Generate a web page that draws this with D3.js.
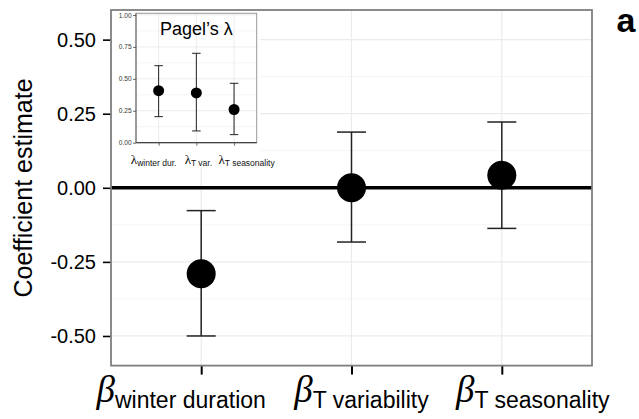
<!DOCTYPE html>
<html>
<head>
<meta charset="utf-8">
<script src="https://cdn.jsdelivr.net/npm/d3@7"></script>
<style>
  html, body { margin: 0; padding: 0; background: #fff; }
  svg { display: block; }
</style>
</head>
<body>
<svg id="chart" width="639" height="419"></svg>
<script>
// ---------- data ----------
const categories = ["winter duration", "T variability", "T seasonality"];
const estimates  = [-0.29, 0.0, 0.042];
const lowerCI    = [-0.50, -0.183, -0.137];
const upperCI    = [-0.077, 0.188, 0.222];

const lambdaCategories = ["winter dur.", "T var.", "T seasonality"];
const lambdaEstimates  = [0.407, 0.39, 0.26];
const lambdaLower      = [0.204, 0.092, 0.063];
const lambdaUpper      = [0.603, 0.70, 0.465];

const yTicks      = [-0.5, -0.25, 0, 0.25, 0.5];
const yMinorTicks = [-0.375, -0.125, 0.125, 0.375];
const lambdaTicks = [0, 0.25, 0.5, 0.75, 1];
const lambdaMinor = [0.125, 0.375, 0.625, 0.875];

// ---------- layout ----------
const SANS = "'Liberation Sans', Arial, Helvetica, sans-serif";
const SERIF = "'Liberation Serif', 'Times New Roman', serif";
const panel = { left: 111, right: 592, top: 10, bottom: 365.6 };
const labelShift = [-20, 10, 31];      // horizontal shift of x tick labels
const inset = { left: 136, right: 256.7, top: 13.3, bottom: 142.7 };
const insetLabelShift = [-5, 2, 12.5];

const svg = d3.select("#chart");

const x = d3.scalePoint().domain(categories).range([panel.left, panel.right]).padding(0.6);
const y = d3.scaleLinear().domain([-0.6, 0.6]).range([panel.bottom, panel.top]);
const fmt = v => v.toFixed(2);

// grid
const g = svg.append("g");
g.append("rect").attr("x", panel.left).attr("y", panel.top)
  .attr("width", panel.right - panel.left).attr("height", panel.bottom - panel.top)
  .attr("fill", "#fff");
g.selectAll(".minor").data(yMinorTicks).join("line")
  .attr("x1", panel.left).attr("x2", panel.right)
  .attr("y1", d => y(d)).attr("y2", d => y(d))
  .attr("stroke", "#f5f5f5").attr("stroke-width", 1);
g.selectAll(".major").data(yTicks).join("line")
  .attr("x1", panel.left).attr("x2", panel.right)
  .attr("y1", d => y(d)).attr("y2", d => y(d))
  .attr("stroke", "#ebebeb").attr("stroke-width", 1.2);
g.selectAll(".vgrid").data(categories).join("line")
  .attr("x1", d => x(d)).attr("x2", d => x(d))
  .attr("y1", panel.top).attr("y2", panel.bottom)
  .attr("stroke", "#ebebeb").attr("stroke-width", 1.2);

// zero line
g.append("line").attr("x1", panel.left).attr("x2", panel.right)
  .attr("y1", y(0)).attr("y2", y(0)).attr("stroke", "#000").attr("stroke-width", 3.5);

// error bars
const capW = 29;
const data = categories.map((c, i) => ({ c, est: estimates[i], lo: lowerCI[i], hi: upperCI[i] }));
const eb = g.append("g").attr("stroke", "#222").attr("stroke-width", 1.5);
eb.selectAll(".v").data(data).join("line")
  .attr("x1", d => x(d.c)).attr("x2", d => x(d.c))
  .attr("y1", d => y(d.lo)).attr("y2", d => y(d.hi));
eb.selectAll(".t").data(data).join("line")
  .attr("x1", d => x(d.c) - capW / 2).attr("x2", d => x(d.c) + capW / 2)
  .attr("y1", d => y(d.hi)).attr("y2", d => y(d.hi));
eb.selectAll(".b").data(data).join("line")
  .attr("x1", d => x(d.c) - capW / 2).attr("x2", d => x(d.c) + capW / 2)
  .attr("y1", d => y(d.lo)).attr("y2", d => y(d.lo));
g.selectAll(".pt").data(data).join("circle")
  .attr("cx", d => x(d.c)).attr("cy", d => y(d.est)).attr("r", 14.5).attr("fill", "#000");

// y axis
const yAxis = svg.append("g").attr("transform", `translate(${panel.left},0)`)
  .call(d3.axisLeft(y).tickValues(yTicks).tickFormat(fmt).tickSize(8).tickPadding(7));
yAxis.select(".domain").remove();
yAxis.selectAll(".tick line").attr("stroke", "#000").attr("stroke-width", 1.6);
yAxis.selectAll(".tick text").attr("font-family", SANS).attr("font-size", 20).attr("fill", "#000");

// x axis ticks
const xAxis = svg.append("g").attr("transform", `translate(0,${panel.bottom})`)
  .call(d3.axisBottom(x).tickSize(9).tickFormat(""));
xAxis.select(".domain").remove();
xAxis.selectAll(".tick line").attr("stroke", "#000").attr("stroke-width", 2);

// x tick labels (beta with subscript)
categories.forEach((c, i) => {
  const t = svg.append("text")
    .attr("x", x(c) + labelShift[i]).attr("y", 402)
    .attr("text-anchor", "middle");
  t.append("tspan").attr("font-family", SERIF).attr("font-style", "italic")
    .attr("font-size", 37).text("β");
  t.append("tspan").attr("font-family", SANS).attr("font-size", 23)
    .attr("dy", 6).text(c);
});

// y title
svg.append("text")
  .attr("transform", "translate(32,188) rotate(-90)")
  .attr("text-anchor", "middle")
  .attr("font-family", SANS).attr("font-size", 25).attr("fill", "#000")
  .text("Coefficient estimate");

// ---------- inset ----------
const ins = svg.append("g");
ins.append("rect").attr("x", panel.left + 1).attr("y", panel.top + 1)
  .attr("width", 260 - panel.left - 1).attr("height", 168 - panel.top - 1).attr("fill", "#fff");

const xi = d3.scalePoint().domain(lambdaCategories).range([inset.left, inset.right]).padding(0.6);
const yi = d3.scaleLinear().domain([0, 1.013]).range([inset.bottom, inset.top]);

ins.selectAll(".iminor").data(lambdaMinor).join("line")
  .attr("x1", inset.left).attr("x2", inset.right)
  .attr("y1", d => yi(d)).attr("y2", d => yi(d))
  .attr("stroke", "#f3f3f3").attr("stroke-width", 0.8);
ins.selectAll(".imajor").data(lambdaTicks.slice(1)).join("line")
  .attr("x1", inset.left).attr("x2", inset.right)
  .attr("y1", d => yi(d)).attr("y2", d => yi(d))
  .attr("stroke", "#e8e8e8").attr("stroke-width", 0.8);
ins.selectAll(".ivgrid").data(lambdaCategories).join("line")
  .attr("x1", d => xi(d)).attr("x2", d => xi(d))
  .attr("y1", inset.top).attr("y2", inset.bottom)
  .attr("stroke", "#e8e8e8").attr("stroke-width", 0.8);
ins.append("rect").attr("x", inset.left).attr("y", inset.top)
  .attr("width", inset.right - inset.left).attr("height", inset.bottom - inset.top)
  .attr("fill", "none").attr("stroke", "#999").attr("stroke-width", 1);
ins.append("line").attr("x1", inset.left).attr("x2", inset.right)
  .attr("y1", inset.bottom).attr("y2", inset.bottom).attr("stroke", "#444").attr("stroke-width", 1.2);
ins.append("line").attr("x1", inset.left).attr("x2", inset.left)
  .attr("y1", inset.top).attr("y2", inset.bottom).attr("stroke", "#777").attr("stroke-width", 1.2);

const ldata = lambdaCategories.map((c, i) => ({ c, est: lambdaEstimates[i], lo: lambdaLower[i], hi: lambdaUpper[i] }));
const icap = 8.5;
const ieb = ins.append("g").attr("stroke", "#222").attr("stroke-width", 1);
ieb.selectAll(".v").data(ldata).join("line")
  .attr("x1", d => xi(d.c)).attr("x2", d => xi(d.c))
  .attr("y1", d => yi(d.lo)).attr("y2", d => yi(d.hi));
ieb.selectAll(".t").data(ldata).join("line")
  .attr("x1", d => xi(d.c) - icap / 2).attr("x2", d => xi(d.c) + icap / 2)
  .attr("y1", d => yi(d.hi)).attr("y2", d => yi(d.hi));
ieb.selectAll(".b").data(ldata).join("line")
  .attr("x1", d => xi(d.c) - icap / 2).attr("x2", d => xi(d.c) + icap / 2)
  .attr("y1", d => yi(d.lo)).attr("y2", d => yi(d.lo));
ins.selectAll(".ipt").data(ldata).join("circle")
  .attr("cx", d => xi(d.c)).attr("cy", d => yi(d.est)).attr("r", 5.5).attr("fill", "#000");

const yiAxis = ins.append("g").attr("transform", `translate(${inset.left},0)`)
  .call(d3.axisLeft(yi).tickValues(lambdaTicks).tickFormat(fmt).tickSize(3).tickPadding(1.5));
yiAxis.select(".domain").remove();
yiAxis.selectAll(".tick line").attr("stroke", "#444").attr("stroke-width", 0.8);
yiAxis.selectAll(".tick text").attr("font-family", SANS).attr("font-size", 6.5).attr("fill", "#333");

const xiAxis = ins.append("g").attr("transform", `translate(0,${inset.bottom})`)
  .call(d3.axisBottom(xi).tickSize(3).tickFormat(""));
xiAxis.select(".domain").remove();
xiAxis.selectAll(".tick line").attr("stroke", "#444").attr("stroke-width", 0.8);

lambdaCategories.forEach((c, i) => {
  const t = ins.append("text")
    .attr("x", xi(c) + insetLabelShift[i]).attr("y", 163.5)
    .attr("text-anchor", "middle").attr("fill", "#111");
  t.append("tspan").attr("font-family", SERIF).attr("font-size", 13).text("λ");
  t.append("tspan").attr("font-family", SANS).attr("font-size", 8.5).attr("dy", 2).text(c);
});

ins.append("text")
  .attr("x", (inset.left + inset.right) / 2).attr("y", 35)
  .attr("text-anchor", "middle").attr("font-family", SANS).attr("font-size", 18).attr("fill", "#000")
  .text("Pagel’s λ");

// main panel border on top
svg.append("rect").attr("x", panel.left).attr("y", panel.top)
  .attr("width", panel.right - panel.left).attr("height", panel.bottom - panel.top)
  .attr("fill", "none").attr("stroke", "#7f7f7f").attr("stroke-width", 1.8);

// panel tag
svg.append("text").attr("x", 626).attr("y", 31.5).attr("text-anchor", "middle")
  .attr("font-family", SANS).attr("font-weight", "bold").attr("font-size", 34).attr("fill", "#000")
  .text("a");
</script>
</body>
</html>
